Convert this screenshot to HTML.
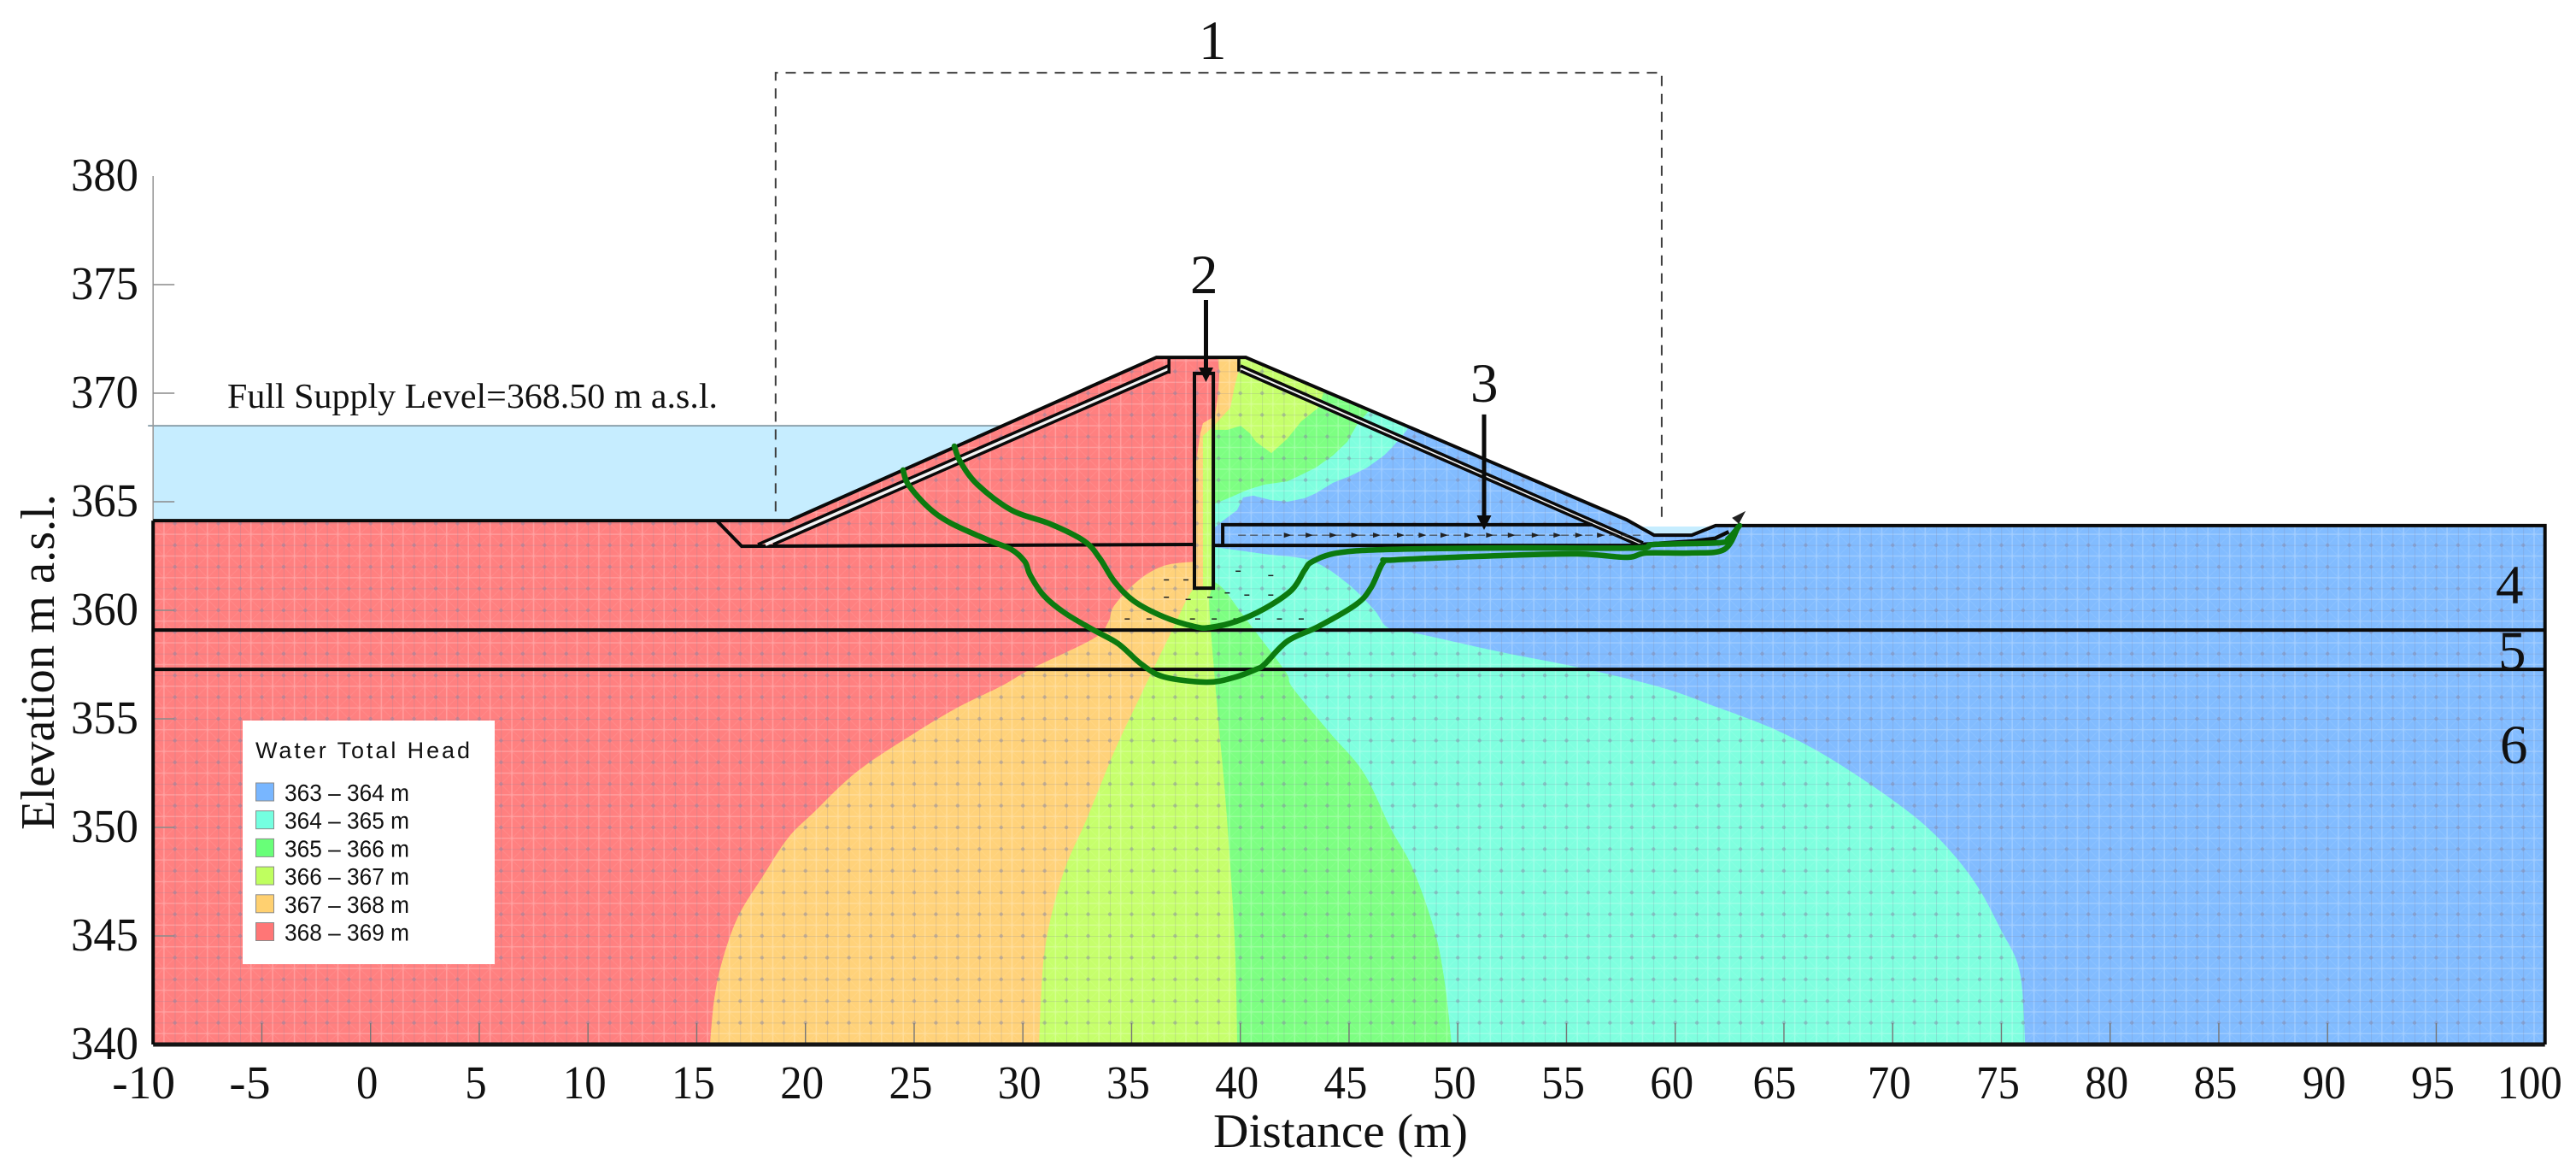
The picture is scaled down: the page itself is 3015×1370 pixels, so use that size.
<!DOCTYPE html>
<html lang="en">
<head>
<meta charset="utf-8">
<title>Water Total Head seepage chart</title>
<style>
html,body{margin:0;padding:0;background:#fff;}
svg{display:block;}
text{font-family:"Liberation Serif",serif;fill:#111;}
.sans{font-family:"Liberation Sans",sans-serif;}
</style>
</head>
<body>
<svg id="chart" xmlns="http://www.w3.org/2000/svg" width="3015" height="1370" viewBox="0 0 3015 1370">
  <defs>
    <pattern id="mesh" patternUnits="userSpaceOnUse" x="433.7" y="1196.6" width="25.45" height="25.4">
      <path d="M12.7 0V25.4M0 12.7H25.45" stroke="#fff" stroke-opacity=".22" stroke-width="1.6" fill="none"/>
      <path d="M0 0L25.45 25.4M25.45 0L0 25.4" stroke="#fff" stroke-opacity=".07" stroke-width="1" fill="none"/>
      <path d="M0 0V25.4M0 0H25.45" stroke="#7f7f9f" stroke-opacity=".33" stroke-width="1.3" fill="none"/>
      <circle cx="0" cy="0" r="2.2" fill="#7f7f9f" fill-opacity=".42"/>
      <circle cx="25.45" cy="0" r="2.2" fill="#7f7f9f" fill-opacity=".42"/>
      <circle cx="0" cy="25.4" r="2.2" fill="#7f7f9f" fill-opacity=".42"/>
      <circle cx="25.45" cy="25.4" r="2.2" fill="#7f7f9f" fill-opacity=".42"/>
    </pattern>
    <clipPath id="body-clip"><polygon id="body-clip-shape" points="0,0"/></clipPath>
  </defs>
  <g id="layer-water"></g>
  <g id="layer-regions" clip-path="url(#body-clip)"></g>
  <g id="layer-axes"></g>
  <g id="layer-structure"></g>
  <g id="layer-vectors"></g>
  <g id="layer-flow"></g>
  <g id="layer-notes"></g>
  <g id="layer-legend"></g>
</svg>
<script>
// ---- axis values ----
const xTicks = [-10,-5,0,5,10,15,20,25,30,35,40,45,50,55,60,65,70,75,80,85,90,95,100];
const yTicks = [340,345,350,355,360,365,370,375,380];
const xMin = -10, xMax = 100, yBase = 340, yMax = 380;

// ---- ground and dam geometry (distance m, elevation m) ----
const bodyOutline = [[-10,340],[-10,364.13],[19.27,364.13],[36.14,371.65],[40.25,371.65],[57.77,364.17],[59.03,363.46],[60.76,363.46],[61.86,363.90],[100,363.90],[100,340]];
const waterLevel = 368.5;
const reservoir = [[-10,368.5],[29.05,368.5],[19.27,364.13],[-10,364.13]];
const tailWater = [[58.5,363.86],[61.95,363.86],[60.76,363.46],[59.03,363.46]];
const layerTop5 = 359.09;
const layerTop6 = 357.28;
const upstreamNotch = [[15.92,364.13],[17.07,362.95],[37.89,363.03]];
const upFilterA = [[36.68,371.26],[17.81,363.03]];
const upFilterB = [[36.68,370.98],[18.52,363.03]];
const upFilterGap = [[36.68,371.12],[18.16,363.03]];
const upFilterCap = [[36.72,371.65],[36.72,370.9]];
const downFilterA = [[40.01,371.26],[58.52,363.11]];
const downFilterB = [[40.01,371.02],[58.28,363.01]];
const downFilterGap = [[40.01,371.14],[58.4,363.06]];
const downFilterCap = [[39.93,371.65],[39.93,371.0]];
const cutoffWall = [[37.89,370.91],[38.76,370.91],[38.76,361.02],[37.89,361.02]];
const drainTop = [[39.19,362.99],[39.19,363.94],[56.19,363.94]];
const drainBase = [[38.76,362.99],[58.49,362.99]];
const tailDrain = [[58.49,363.03],[60.88,363.19],[61.83,363.31],[62.46,363.62]];

// ---- total head contour regions ----
const regionBlue = [[10,340],[10,372],[101,372],[101,340]];
const regionCyan = [[76.10,340],[75.85,343.33],[74.98,345.28],[73.72,347.56],[71.96,349.65],[69.95,351.30],[66.97,353.27],[64.45,354.57],[61.94,355.53],[59.42,356.43],[55.69,357.34],[51.92,358.09],[47.91,358.98],[46.77,359.21],[46.14,360.04],[44.90,361.26],[43.27,362.28],[41.07,362.60],[38.83,362.91],[38.83,363.82],[39.15,364.09],[39.85,364.61],[40.13,365.20],[40.60,365.28],[41.39,365.08],[42.17,365.0],[42.96,365.16],[43.47,365.39],[44.26,365.87],[45.04,366.18],[45.83,366.57],[46.61,367.13],[47.0,367.52],[47.67,368.31],[48.5,372],[10,372],[10,340]];
const regionGreen = [[49.72,340],[49.40,342.87],[48.92,345.28],[47.91,348.15],[46.91,349.96],[45.67,352.52],[44.14,354.33],[42.41,356.43],[42.06,357.20],[40.25,359.61],[39.26,360.94],[38.76,361.34],[38.76,364.88],[39.54,365.20],[40.33,365.55],[41.12,365.79],[42.17,365.94],[42.68,366.18],[43.47,366.57],[44.26,367.13],[44.92,367.76],[45.36,368.54],[45.83,369.09],[46.5,370],[46,372],[10,372],[10,340]];
const regionLime = [[39.86,340],[39.74,344.84],[39.35,350.87],[38.95,355.39],[38.64,359.13],[38.56,360.51],[38.68,361.02],[38.68,367.64],[38.83,368.31],[39.42,368.31],[40.01,368.50],[40.44,368.15],[40.72,367.76],[41.43,367.24],[42.17,367.91],[42.80,368.70],[43.59,369.33],[43.86,370.12],[44.0,372],[10,372],[10,340]];
const regionOrange = [[30.74,340],[31.01,344.37],[31.84,347.83],[32.94,350.39],[34.24,353.58],[35.45,356.14],[36.24,357.80],[36.83,359.00],[37.46,360.35],[37.85,361.02],[38.28,361.02],[38.28,368.03],[38.83,368.54],[39.54,369.33],[39.73,370.28],[39.93,371.06],[39.93,372],[10,372],[10,340]];
const regionRed = [[15.61,340],[15.81,342.13],[16.20,343.94],[16.91,345.91],[18.01,347.70],[19.19,349.50],[20.40,350.71],[22.41,352.60],[25.00,354.33],[27.01,355.53],[29.01,356.51],[30.42,357.32],[33.25,358.70],[33.92,359.45],[34.14,360.12],[34.83,360.94],[35.65,361.63],[36.63,362.09],[37.89,362.24],[37.89,366.06],[37.97,366.85],[38.16,368.15],[38.28,368.62],[38.83,368.94],[38.95,369.72],[39.03,370.79],[38.95,372],[-11,372],[-11,340]];

// ---- flow lines ----
const flowLineOuter = [[24.49,366.46],[24.73,365.79],[25.63,364.76],[26.67,364.02],[28.42,363.23],[29.48,362.80],[30.09,362.24],[30.34,361.61],[30.97,360.67],[31.92,359.88],[33.25,359.09],[34.39,358.46],[35.45,357.52],[36.50,356.93],[38.44,356.69],[39.66,356.89],[40.72,357.28],[41.12,357.52],[42.17,358.58],[43.59,359.25],[45.34,360.28],[46.02,361.06],[46.57,362.20],[47.09,362.32],[52.00,362.52],[55.50,362.60],[57.77,362.44],[58.68,362.64],[60.76,362.64],[62.25,362.80],[62.88,363.82]];
const flowLineInner = [[26.85,367.56],[27.12,366.85],[27.91,365.79],[29.48,364.61],[31.25,363.98],[32.82,363.19],[33.53,362.40],[34.20,361.34],[35.10,360.43],[36.50,359.69],[37.89,359.25],[38.60,359.21],[39.81,359.49],[41.12,360.08],[42.37,360.94],[42.96,361.85],[43.31,362.24],[44.45,362.64],[46.73,362.80],[52.0,362.87],[58.13,362.87],[59.03,363.03],[62.02,363.11],[62.45,363.31],[62.96,363.90]];

// ---- seepage vectors ----
const drainVectorD = [42.2,43.2,44.3,45.3,46.3,47.4,48.4,49.4,50.5,51.5,52.5,53.6,54.6,55.6,56.6];
const drainVectorE = 363.46;
const seepVectorD = [36.6,37.5,36.6,37.6,38.6,39.4,40.3,41.4,39.9,41.4,34.8,35.8,36.8,37.8,38.8,39.8,40.8,41.8,42.8];
const seepVectorE = [361.4,361.4,360.6,360.5,360.6,360.8,360.7,360.7,361.8,361.6,359.6,359.6,359.6,359.6,359.6,359.6,359.6,359.6,359.6];
const outflowVector = [[62.73,363.98],[63.24,364.57]];

// ---- annotations ----
const boxLeft = 18.63, boxRight = 59.38, boxTop = 384.76, boxLeftBase = 364.55, boxRightBase = 364.15;
const arrowTwo = [38.42,374.29,370.51];
const arrowThree = [51.21,369.02,363.70];

// ---- legend ----
const legendLabels = ['363 – 364 m','364 – 365 m','365 – 366 m','366 – 367 m','367 – 368 m','368 – 369 m'];
const legendColors = ['#78b6ff','#74ffe0','#68ff78','#bfff5f','#ffd070','#ff7676'];

const pxPerX = 25.45, pxPerY = 25.4, originX = 433.7, originY = 1222;
function X(d){ return originX + pxPerX * d; }
function Y(e){ return originY - pxPerY * (e - yBase); }
const NS = 'http://www.w3.org/2000/svg';
function mk(tag, parent, attrs, txt){
  const el = document.createElementNS(NS, tag);
  for (const k in attrs) el.setAttribute(k, attrs[k]);
  if (txt !== undefined) el.textContent = txt;
  parent.appendChild(el);
  return el;
}
function pts(list){ return list.map(function(p){ return X(p[0]).toFixed(1) + ',' + Y(p[1]).toFixed(1); }).join(' '); }
function smooth(list){
  const p = list.map(function(q){ return [X(q[0]), Y(q[1])]; });
  let d = 'M' + p[0][0].toFixed(1) + ' ' + p[0][1].toFixed(1);
  for (let i = 0; i < p.length - 1; i++){
    const a = p[Math.max(0,i-1)], b = p[i], c = p[i+1], e = p[Math.min(p.length-1,i+2)];
    d += 'C' + (b[0]+(c[0]-a[0])/6).toFixed(1) + ' ' + (b[1]+(c[1]-a[1])/6).toFixed(1) + ' ' + (c[0]-(e[0]-b[0])/6).toFixed(1) + ' ' + (c[1]-(e[1]-b[1])/6).toFixed(1) + ' ' + c[0].toFixed(1) + ' ' + c[1].toFixed(1);
  }
  return d;
}
function regionPath(list, curved){
  let d = smooth(list.slice(0, curved));
  list.slice(curved).forEach(function(q){ d += 'L' + X(q[0]).toFixed(1) + ' ' + Y(q[1]).toFixed(1); });
  return d + 'Z';
}
const gWater = document.getElementById('layer-water');
const gRegions = document.getElementById('layer-regions');
const gAxes = document.getElementById('layer-axes');
const gStruct = document.getElementById('layer-structure');
const gVec = document.getElementById('layer-vectors');
const gFlow = document.getElementById('layer-flow');
const gNotes = document.getElementById('layer-notes');
const gLegend = document.getElementById('layer-legend');

document.getElementById('body-clip-shape').setAttribute('points', pts(bodyOutline));

// water
const reservoirEl = mk('polygon', gWater, {points: pts(reservoir), fill: '#c6edff'});


const tailEl = mk('polygon', gWater, {points: pts(tailWater), fill: '#c6edff'});


const waterLine = mk('line', gWater, {x1: X(-10) - 6, x2: X(reservoir[1][0]), y1: Y(waterLevel), y2: Y(waterLevel), stroke: '#8298a4', 'stroke-width': 1.8});



// regions
const regionBlueEl = mk('polygon', gRegions, {points: pts(regionBlue), fill: '#82bcff'});


const regionCyanEl = mk('path', gRegions, {d: regionPath(regionCyan, 19), fill: '#7fffdf'});


const regionGreenEl = mk('path', gRegions, {d: regionPath(regionGreen, 12), fill: '#7dff82'});


const regionLimeEl = mk('path', gRegions, {d: regionPath(regionLime, 6), fill: '#c6ff6c'});


const regionOrangeEl = mk('path', gRegions, {d: regionPath(regionOrange, 10), fill: '#ffd27a'});


const regionRedEl = mk('path', gRegions, {d: regionPath(regionRed, 19), fill: '#ff8080'});


const meshEl = mk('rect', gRegions, {x: X(-10), y: Y(372), width: X(100)-X(-10), height: Y(340)-Y(372), fill: 'url(#mesh)'});



// axes
const axisUpper = mk('line', gAxes, {x1: X(xMin), x2: X(xMin), y1: Y(yMax), y2: Y(364), stroke: '#9a9a9a', 'stroke-width': 1.6});


yTicks.forEach(function(v){
  if (v > yBase && v < yMax){
    const t = mk('line', gAxes, {x1: X(xMin), x2: X(xMin) + 25, y1: Y(v), y2: Y(v), stroke: '#8a8a8a', 'stroke-width': 1.4});
    
    
  }
  const l = mk('text', gAxes, {x: 83, y: Y(v) + 17, 'font-size': 55, textLength: 79, lengthAdjust: 'spacingAndGlyphs'}, String(v));
  
  
});
function nudge(v){ if (v === 100) return -18; if (v === -10 || v === 65) return -11; if (v === -5) return -14; return -4; }
xTicks.forEach(function(v){
  if (v > xMin && v < xMax){
    const t = mk('line', gAxes, {x1: X(v), x2: X(v), y1: Y(yBase), y2: Y(yBase) - 25, stroke: '#777', 'stroke-width': 1.4});
    
    
  }
  const s = String(v);
  const digits = s.replace('-', '').length;
  const w = digits * 25.4 + (v < 0 ? 23 : 0);
  const l = mk('text', gAxes, {x: X(v) + nudge(v) - w / 2, y: 1285, 'font-size': 55, textLength: w, lengthAdjust: 'spacingAndGlyphs'}, s);
  
  
});
const yTitle = mk('text', gAxes, {transform: 'translate(63,971) rotate(-90)', 'font-size': 56, textLength: 393, lengthAdjust: 'spacingAndGlyphs'}, 'Elevation m a.s.l.');


const xTitle = mk('text', gAxes, {x: 1420, y: 1342, 'font-size': 56, textLength: 298, lengthAdjust: 'spacingAndGlyphs'}, 'Distance (m)');



// structure
function strokeLine(list, name, w, color){
  const el = mk('polyline', gStruct, {points: pts(list), fill: 'none', stroke: color || '#0a0a0a', 'stroke-width': w, 'stroke-linejoin': 'miter'});
  
  
  return el;
}
strokeLine([[-10,340],[100,340]], 'x-axis-line', 5, '#151515');
strokeLine(bodyOutline.slice(1, 10).concat([[100,340]]), 'ground-and-dam-outline', 4);
strokeLine([[-10,364.13],[-10,340]], 'left-boundary', 4);
strokeLine([[-10,layerTop5],[100,layerTop5]], 'layer-boundary-upper', 4);
strokeLine([[-10,layerTop6],[100,layerTop6]], 'layer-boundary-lower', 4);
strokeLine(upstreamNotch, 'upstream-base-line', 4);
strokeLine(upFilterGap, 'upstream-filter-gap', 4, '#f4f4f4');
strokeLine(upFilterA, 'upstream-filter-outer', 3.5);
strokeLine(upFilterB, 'upstream-filter-inner', 3.5);
strokeLine(upFilterCap, 'upstream-filter-cap', 3.5);
strokeLine(downFilterGap, 'downstream-filter-gap', 4, '#f4f4f4');
strokeLine(downFilterA, 'downstream-filter-outer', 3.5);
strokeLine(downFilterB, 'downstream-filter-inner', 3.5);
strokeLine(downFilterCap, 'downstream-filter-cap', 3.5);
const wallEl = mk('polygon', gStruct, {points: pts(cutoffWall), fill: 'none', stroke: '#0a0a0a', 'stroke-width': 4});


strokeLine(drainTop, 'drain-top', 4);
strokeLine(drainBase, 'drain-base', 4);
strokeLine(tailDrain, 'toe-drain', 4.5);

// vectors
const drainDash = mk('line', gVec, {x1: X(39.9), x2: X(58.4), y1: Y(drainVectorE), y2: Y(drainVectorE), stroke: '#333', 'stroke-width': 1, 'stroke-dasharray': '9 5'});


drainVectorD.forEach(function(d){
  const a = mk('polygon', gVec, {points: (X(d)-5)+','+(Y(drainVectorE)-3)+' '+(X(d)+4)+','+Y(drainVectorE)+' '+(X(d)-5)+','+(Y(drainVectorE)+3), fill: '#222'});
  
  
});
seepVectorD.forEach(function(d, i){
  const a = mk('line', gVec, {x1: X(d)-3, x2: X(d)+3, y1: Y(seepVectorE[i]), y2: Y(seepVectorE[i]), stroke: '#222', 'stroke-width': 1.5});
  
  
});

// flow lines
const outerEl = mk('path', gFlow, {d: smooth(flowLineOuter), fill: 'none', stroke: '#0c7a0f', 'stroke-width': 6.5, 'stroke-linejoin': 'round', 'stroke-linecap': 'round'});


const innerEl = mk('path', gFlow, {d: smooth(flowLineInner), fill: 'none', stroke: '#0c7a0f', 'stroke-width': 6.5, 'stroke-linejoin': 'round', 'stroke-linecap': 'round'});


const ox1 = X(outflowVector[0][0]), oy1 = Y(outflowVector[0][1]), ox2 = X(outflowVector[1][0]), oy2 = Y(outflowVector[1][1]);
const outflow = mk('polygon', gFlow, {points: ox2+','+oy2+' '+(ox1-3)+','+(oy1-7)+' '+(ox1+5)+','+(oy1),  fill: '#222'});



// annotations
const dashBox = mk('polyline', gNotes, {points: pts([[boxLeft,boxLeftBase],[boxLeft,boxTop],[boxRight,boxTop],[boxRight,boxRightBase]]), fill: 'none', stroke: '#3d3d3d', 'stroke-width': 2, 'stroke-dasharray': '12 9'});


function arrow(def, name){
  const x = X(def[0]), y1 = Y(def[1]), y2 = Y(def[2]);
  const s = mk('line', gNotes, {x1: x, x2: x, y1: y1, y2: y2 - 12, stroke: '#0a0a0a', 'stroke-width': 5});
  
  
  const h = mk('polygon', gNotes, {points: (x-8.5)+','+(y2-17)+' '+(x+8.5)+','+(y2-17)+' '+x+','+y2, fill: '#0a0a0a'});
  
  
}
arrow(arrowTwo, 'arrow-2');
arrow(arrowThree, 'arrow-3');
const n1 = mk('text', gNotes, {x: 1403, y: 69, 'font-size': 65}, '1');


const n2 = mk('text', gNotes, {x: 1393, y: 343, 'font-size': 65}, '2');


const n3 = mk('text', gNotes, {x: 1721, y: 470, 'font-size': 65}, '3');


const n4 = mk('text', gNotes, {x: 2921, y: 706, 'font-size': 65}, '4');


const n5 = mk('text', gNotes, {x: 2924, y: 783, 'font-size': 65}, '5');


const n6 = mk('text', gNotes, {x: 2926, y: 893, 'font-size': 65}, '6');


const fsl = mk('text', gNotes, {x: 266, y: 477, 'font-size': 41, textLength: 574, lengthAdjust: 'spacingAndGlyphs'}, 'Full Supply Level=368.50 m a.s.l.');



// legend
const legendBox = mk('rect', gLegend, {x: 284, y: 843, width: 295, height: 285, fill: '#ffffff'});


const legendTitle = mk('text', gLegend, {x: 299, y: 887, 'font-size': 27, 'class': 'sans', textLength: 251, lengthAdjust: 'spacing'}, 'Water Total Head');


legendLabels.forEach(function(label, i){
  const top = 916 + i * 32.7;
  const sw = mk('rect', gLegend, {x: 299.5, y: top, width: 21, height: 21, fill: legendColors[i], stroke: '#8a8a8a', 'stroke-width': 1});
  
  
  const t = mk('text', gLegend, {x: 333, y: top + 21, 'font-size': 28, 'class': 'sans', textLength: 146, lengthAdjust: 'spacingAndGlyphs'}, label);
  
  
});
</script>
</body>
</html>
